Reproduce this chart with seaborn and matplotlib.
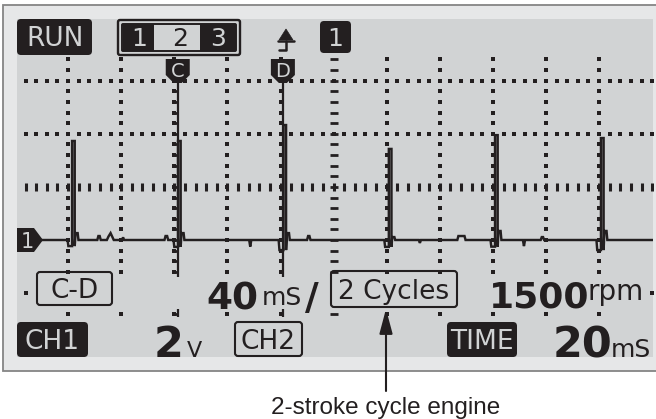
import matplotlib
matplotlib.use("Agg")
import numpy as np
import pandas as pd
import matplotlib.pyplot as plt
from matplotlib.patches import FancyBboxPatch, Rectangle, Polygon
import seaborn as sns

# ---------------- channel 1 trace (time in ms, amplitude in V) ----------------
trace_ms = [
    -1.0,
    19.8, 20.1, 21.5, 21.5, 22.5, 22.5, 22.8, 23.6, 23.9,
    31.0, 31.4, 31.9, 32.3,
    34.6, 35.2, 36.0, 36.6, 37.2,
    40.3, 40.7, 41.1,
    56.3, 56.7, 57.3, 57.7,
    59.7, 60.0, 61.4, 61.4, 62.4, 62.4, 62.7, 63.5, 63.8,
    88.2, 88.6, 89.0,
    99.3, 99.6, 101.1, 101.1, 102.1, 102.1, 102.4, 103.2, 103.5,
    110.0, 110.4, 110.9, 111.3,
    139.1, 139.4, 140.8, 140.8, 141.8, 141.8, 142.1, 142.9, 143.2,
    152.1, 152.5, 152.9,
    166.6, 167.0, 169.3, 169.7,
    179.1, 179.4, 180.8, 180.8, 181.8, 181.8, 182.1, 182.9, 183.2,
    191.3, 191.7, 192.1,
    198.0, 198.4, 198.9, 199.3,
    219.0, 219.3, 220.7, 220.7, 221.7, 221.7, 222.0, 222.8, 223.1,
    241.0,
]
trace_v = [
    0.0,
    0.0, -0.23, -0.23, 3.73, 3.73, -0.23, 0.26, 0.26, 0.0,
    0.0, 0.15, 0.15, 0.0,
    0.0, 0.13, 0.26, 0.13, 0.0,
    0.0, 0.10, 0.0,
    0.0, 0.15, 0.15, 0.0,
    0.0, -0.26, -0.26, 3.73, 3.73, -0.26, 0.26, 0.26, 0.0,
    0.0, -0.25, 0.0,
    0.0, -0.38, -0.38, 4.33, 4.33, -0.38, 0.26, 0.26, 0.0,
    0.0, 0.15, 0.15, 0.0,
    0.0, -0.26, -0.26, 3.43, 3.43, -0.26, 0.11, 0.11, 0.0,
    0.0, -0.11, 0.0,
    0.0, 0.15, 0.15, 0.0,
    0.0, -0.25, -0.25, 3.95, 3.95, -0.25, 0.34, 0.34, 0.0,
    0.0, -0.23, 0.0,
    0.0, 0.11, 0.11, 0.0,
    0.0, -0.38, -0.38, 3.84, 3.84, -0.38, 0.34, 0.34, 0.0,
    0.0,
]

# cursors
cursor_names = ["C", "D"]
cursor_ms = [61.3, 100.9]

# graticule
grid_ms = [20, 40, 60, 80, 100, 140, 160, 180, 200, 220]
grid_v = [6, 4, -2]
center_ms = 120
center_v = 2

# readouts
run_text = "RUN"
channel_keys = ["1", "2", "3"]
trigger_text = "1"
ground_text = "1"
span_text = "C-D"
span_value = "40"
span_unit = "mS"
cycles_text = "2 Cycles"
rpm_value = "1500"
rpm_unit = "rpm"
ch1_text = "CH1"
volt_value = "2"
volt_unit = "V"
ch2_text = "CH2"
time_text = "TIME"
time_value = "20"
time_unit = "mS"
caption = "2-stroke cycle engine"

# ---------------- styling ----------------
sns.set_style("white")
plt.rcParams["font.family"] = ["DejaVu Sans"]
INK = "#231f20"
SCREEN = "#d1d3d4"
BEZEL = "#e6e7e8"

W, H = 656, 419
fig = plt.figure(figsize=(W / 100, H / 100), dpi=100)
fig.patch.set_facecolor("white")

# screen geometry (pixels) and scale
SX0, SX1, SY0, SY1 = 17, 653, 19, 357
PX_DIV = 53.1
ORG_X, ORG_Y = 15, 240  # pixel of t=0 ms, 0 V
MS_DIV, V_DIV = 20, 2


def px_to_ms(px):
    return (px - ORG_X) * MS_DIV / PX_DIV


def py_to_v(py):
    return (ORG_Y - py) * V_DIV / PX_DIV


# background bezel + screen
ax_bg = fig.add_axes([0, 0, 1, 1], zorder=0)
ax_bg.set_xlim(0, W)
ax_bg.set_ylim(H, 0)
ax_bg.axis("off")
ax_bg.add_patch(Rectangle((3, 5), 720, 366, fc=BEZEL, ec="#858585", lw=1.3))
ax_bg.add_patch(Rectangle((SX0, SY0), SX1 - SX0, SY1 - SY0, fc=SCREEN, ec="none"))

# data axes on the screen area
ax = fig.add_axes([SX0 / W, (H - SY1) / H, (SX1 - SX0) / W, (SY1 - SY0) / H], zorder=1)
ax.patch.set_visible(False)
ax.set_xlim(px_to_ms(SX0), px_to_ms(SX1))
ax.set_ylim(py_to_v(SY1), py_to_v(SY0))
ax.axis("off")

minor_ms = np.arange(4, 241, 4)
minor_v = np.round(np.arange(-2.8, 6.81, 0.4), 2)

# dotted graticule
dots = pd.DataFrame(
    [(t, v) for t in grid_ms for v in minor_v] + [(t, v) for v in grid_v for t in minor_ms],
    columns=["ms", "v"],
)
sns.scatterplot(data=dots, x="ms", y="v", marker="s", s=6.5, color=INK, linewidth=0, ax=ax)

# centre axes with tick dashes
ax.plot([center_ms] * len(minor_v), minor_v, ls="none", marker="_", ms=5.6, mew=2.0, color=INK)
ax.plot(minor_ms, [center_v] * len(minor_ms), ls="none", marker="|", ms=6.0, mew=2.2, color=INK)

# cursor lines
for t in cursor_ms:
    ax.plot([t, t], [py_to_v(80), py_to_v(317)], color=INK, lw=1.6, solid_capstyle="butt")
    ticks = minor_v[minor_v <= 5.61]
    ax.plot([t - 0.9] * len(ticks), ticks, ls="none", marker="_", ms=2.8, mew=2.0, color=INK)

# the trace
trace = pd.DataFrame({"ms": trace_ms, "v": trace_v})
sns.lineplot(data=trace, x="ms", y="v", estimator=None, sort=False, color=INK, lw=1.75,
             ax=ax, solid_joinstyle="miter")

# ---------------- readouts overlay ----------------
ui = fig.add_axes([0, 0, 1, 1], zorder=2)
ui.patch.set_visible(False)
ui.set_xlim(0, W)
ui.set_ylim(H, 0)
ui.axis("off")


def solid_box(x0, y0, x1, y1, r=4):
    ui.add_patch(FancyBboxPatch((x0, y0), x1 - x0, y1 - y0,
                                boxstyle=f"round,pad=0,rounding_size={r}", fc=INK, ec="none"))


def open_box(x0, y0, x1, y1, r=3, lw=1.5):
    ui.add_patch(FancyBboxPatch((x0, y0), x1 - x0, y1 - y0,
                                boxstyle=f"round,pad=0,rounding_size={r}", fc="none", ec=INK, lw=lw))


def label(x, y, s, size, color=INK, weight="normal", ha="center"):
    ui.text(x, y, s, fontsize=size, color=color, fontweight=weight, ha=ha, va="baseline")


# band behind middle readout row
ui.add_patch(Rectangle((33, 277), 615, 32, fc=SCREEN, ec="none"))

# top row
solid_box(17, 19, 92, 55)
label(55, 46.5, run_text, 19, color=SCREEN)

open_box(118, 20, 240, 55, r=2, lw=1.7)
open_box(122, 24, 236, 51, r=1, lw=1.4)
ui.add_patch(Rectangle((123, 24), 31, 27, fc=INK, ec="none"))
ui.add_patch(Rectangle((200, 24), 36, 27, fc=INK, ec="none"))
label(139, 46, channel_keys[0], 18, color=SCREEN)
label(180.5, 46, channel_keys[1], 18)
label(218, 46, channel_keys[2], 18, color=SCREEN)

# trigger slope symbol
ui.plot([278, 294], [41, 41], color=INK, lw=1.8)
ui.plot([279, 286, 286], [50, 50, 41], color=INK, lw=1.8)
ui.add_patch(Polygon([(279, 40), (293, 40), (286, 29)], closed=True, fc=INK, ec=INK, lw=0.5))
solid_box(320, 21, 351, 53)
label(335.5, 46, trigger_text, 18, color=SCREEN)

# cursor flags
for name, t in zip(cursor_names, cursor_ms):
    cx = ORG_X + t * PX_DIV / MS_DIV
    ui.add_patch(Polygon([(cx - 12, 59), (cx + 12, 59), (cx + 12, 75), (cx + 4, 83),
                          (cx - 4, 83), (cx - 12, 75)], closed=True, fc=INK, ec="none"))
    label(cx, 77, name, 14, color=SCREEN)

# ground marker
ui.add_patch(Polygon([(17, 228), (34, 228), (43, 240), (34, 252), (17, 252)], closed=True, fc=INK, ec="none"))
label(27, 248, ground_text, 15, color=SCREEN)

# middle row
open_box(37, 272, 112, 305)
label(74.5, 298, span_text, 19)
label(206, 309, span_value, 27, weight="bold", ha="left")
label(262, 305, span_unit, 18, ha="left")
label(305, 309, "/", 27, weight="bold", ha="left")
open_box(331, 271, 457, 307)
label(394, 299, cycles_text, 19)
label(489, 307, rpm_value, 26, weight="bold", ha="left")
label(588, 300, rpm_unit, 20, ha="left")

# bottom row
solid_box(17, 322, 88, 357)
label(52.5, 349, ch1_text, 19, color=SCREEN)
label(154, 357, volt_value, 31, weight="bold", ha="left")
label(187, 357, volt_unit, 16, ha="left")
open_box(235, 322, 302, 356)
label(268.5, 349, ch2_text, 19)
solid_box(447, 322, 517, 357)
label(482, 349, time_text, 19, color=SCREEN)
label(553, 357, time_value, 31, weight="bold", ha="left")
label(611, 357, time_unit, 18, ha="left")

# caption with pointer to the cycle count
ui.annotate("", xy=(386, 309), xytext=(386, 391),
            arrowprops=dict(arrowstyle="-|>,head_length=0.75,head_width=0.2", mutation_scale=20,
                            lw=1.5, color=INK, shrinkA=0, shrinkB=0))
ui.text(386, 413.5, caption, fontsize=17.5, color=INK, ha="center", va="baseline",
        family=["Liberation Sans", "DejaVu Sans"])

fig.savefig("out.png", dpi=100, facecolor="white")
